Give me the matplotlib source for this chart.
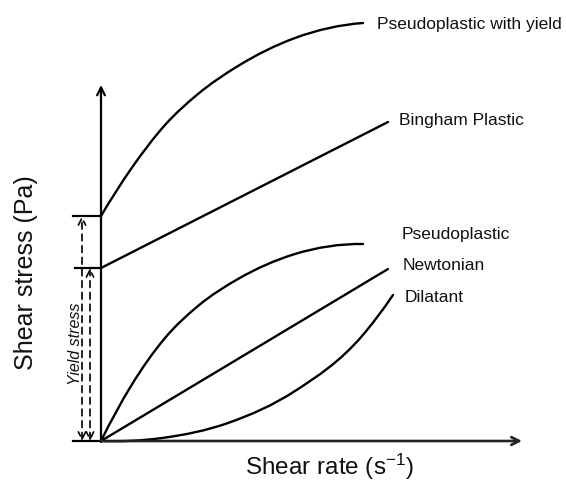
import matplotlib
matplotlib.use("Agg")
import matplotlib.pyplot as plt
from matplotlib.path import Path
from matplotlib.patches import PathPatch

plt.rcParams['font.family'] = ['Liberation Sans', 'DejaVu Sans']
plt.rcParams['mathtext.fontset'] = 'custom'
plt.rcParams['mathtext.rm'] = 'Liberation Sans'
plt.rcParams['mathtext.it'] = 'Liberation Sans:italic'

# Schematic curves (shear rate, shear stress) in arbitrary units
pyield_x = [0, 30, 64, 97, 137, 194, 262]
pyield_y = [225, 272, 316, 347, 375, 403, 418]
bingham_x = [0, 287]
bingham_y = [173, 319]
pseudo_x = [0, 30, 64, 97, 137, 194, 262]
pseudo_y = [0, 55, 103, 135, 162, 187, 197]
newton_x = [0, 287]
newton_y = [0, 172]
dilat_x = [0, 61, 127, 194, 261, 292]
dilat_y = [0, 3, 18, 50, 105, 146]

labels = ["Pseudoplastic with yield", "Bingham Plastic", "Pseudoplastic", "Newtonian", "Dilatant"]
yield_levels = [225, 173]

fig = plt.figure(figsize=(5.66, 4.86), dpi=100)
ax = fig.add_axes([0, 0, 1, 1])
ax.set_xlim(-101, 465)
ax.set_ylim(-45, 441)
ax.axis('off')

lw = 1.7


def smooth_path(xs, ys):
    """Hermite cubic (as Bezier segments) through the given points."""
    n = len(xs)
    if n == 2:
        return Path(list(zip(xs, ys)), [Path.MOVETO, Path.LINETO])
    h = [xs[i + 1] - xs[i] for i in range(n - 1)]
    s = [(ys[i + 1] - ys[i]) / h[i] for i in range(n - 1)]
    m = [0.0] * n
    for i in range(1, n - 1):
        m[i] = (h[i] * s[i - 1] + h[i - 1] * s[i]) / (h[i - 1] + h[i])
    m[0] = ((2 * h[0] + h[1]) * s[0] - h[0] * s[1]) / (h[0] + h[1])
    m[-1] = ((2 * h[-1] + h[-2]) * s[-1] - h[-1] * s[-2]) / (h[-1] + h[-2])
    verts = [(xs[0], ys[0])]
    codes = [Path.MOVETO]
    for i in range(n - 1):
        d = h[i] / 3.0
        verts += [(xs[i] + d, ys[i] + m[i] * d),
                  (xs[i + 1] - d, ys[i + 1] - m[i + 1] * d),
                  (xs[i + 1], ys[i + 1])]
        codes += [Path.CURVE4] * 3
    return Path(verts, codes)


series = [(pyield_x, pyield_y), (bingham_x, bingham_y), (pseudo_x, pseudo_y),
          (newton_x, newton_y), (dilat_x, dilat_y)]
for xs, ys in series:
    ax.add_patch(PathPatch(smooth_path(xs, ys), facecolor='none', edgecolor='black',
                           lw=lw, capstyle='round'))

# label positions
lab_pos = [(276, 416), (298, 320), (301, 207), (302, 176), (304, 144)]
for (lx, ly), t in zip(lab_pos, labels):
    ax.text(lx, ly, t, fontsize=12.5, va='center', ha='left', color='#111111')

# axes arrows
ax.annotate('', xy=(0, 356), xytext=(0, -1),
            arrowprops=dict(arrowstyle='->', lw=1.6, color='black', mutation_scale=14,
                            shrinkA=0, shrinkB=0))
ax.annotate('', xy=(421, 0), xytext=(-1, 0),
            arrowprops=dict(arrowstyle='->', lw=1.9, color='#222222', mutation_scale=14,
                            shrinkA=0, shrinkB=0))

# yield stress markers
ax.plot([-28, 0], [yield_levels[0], yield_levels[0]], color='black', lw=1.6)
ax.plot([-26, 0], [yield_levels[1], yield_levels[1]], color='black', lw=1.6)
ax.plot([-28, -2], [0, 0], color='black', lw=1.6)
for xv, lv in [(-19, yield_levels[0]), (-11, yield_levels[1])]:
    ax.annotate('', xy=(xv, lv), xytext=(xv, 0),
                arrowprops=dict(arrowstyle='<->', lw=1.2, color='black', linestyle=(0, (4, 3)),
                                mutation_scale=13, shrinkA=0, shrinkB=0))
ax.text(-26, 97, 'Yield stress', rotation=90, fontsize=11.5, style='italic',
        ha='center', va='center', color='#111111')

# axis labels
ax.text(-75, 168, 'Shear stress (Pa)', rotation=90, fontsize=18,
        ha='center', va='center', color='#111111')
ax.text(228, -26, 'Shear rate (s$^{\\mathrm{-1}}$)', fontsize=17.5,
        ha='center', va='center', color='#111111')

fig.savefig('out.png', dpi=100)
